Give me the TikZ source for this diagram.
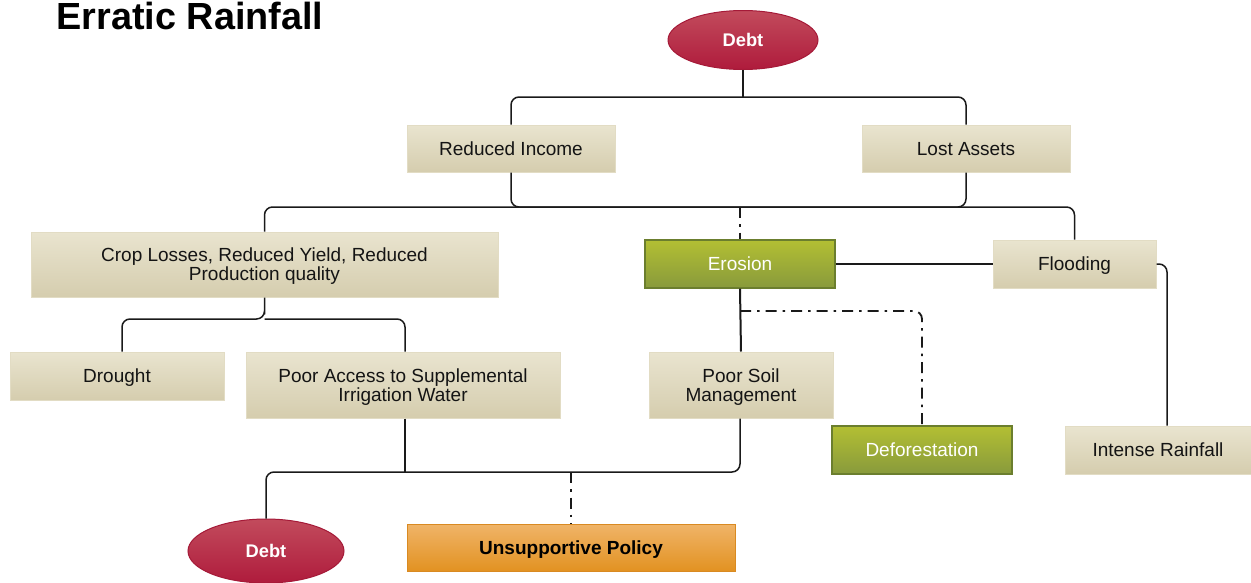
\documentclass[tikz,border=0pt]{standalone}
\usepackage{fontspec}
\setmainfont{Liberation Sans}
\usetikzlibrary{shapes.geometric}
\definecolor{beigetop}{HTML}{E9E4CF}
\definecolor{beigebot}{HTML}{D5CDAE}
\definecolor{beigeline}{HTML}{E2DCC4}
\definecolor{greentop}{HTML}{B3BF33}
\definecolor{greenbot}{HTML}{889A3C}
\definecolor{greenline}{HTML}{6B7E2E}
\definecolor{orangetop}{HTML}{F0B468}
\definecolor{orangebot}{HTML}{E29222}
\definecolor{orangeline}{HTML}{D98A22}
\definecolor{redtop}{HTML}{C24B5C}
\definecolor{redbot}{HTML}{AF1B3C}
\definecolor{redline}{HTML}{A51A38}
\definecolor{linecol}{HTML}{1A1A1A}
\begin{document}
\begin{tikzpicture}[x=1pt,y=-1pt,
  txt/.style={font=\fontsize{19}{19}\selectfont, text depth=0pt},
  beige/.style={txt, draw=beigeline, line width=1pt, top color=beigetop, bottom color=beigebot, text=black!92, inner sep=0pt, align=center},
  greenbox/.style={txt, draw=greenline, line width=1.2pt, top color=greentop, bottom color=greenbot, text=white, inner sep=0pt, align=center},
  orangebox/.style={font=\fontsize{19}{19}\selectfont\bfseries, text depth=0pt, draw=orangeline, line width=1pt, top color=orangetop, bottom color=orangebot, text=black, inner sep=0pt, align=center},
  debtnode/.style={ellipse, font=\fontsize{18.3}{19}\selectfont\bfseries, draw=redline, line width=1pt, top color=redtop, bottom color=redbot, text=white, inner sep=0pt},
  conn/.style={draw=linecol, line width=1.5pt, rounded corners=8pt},
  dashdot/.style={draw=linecol, line width=1.8pt, dash pattern=on 11pt off 6pt on 2.5pt off 6pt}
]
\useasboundingbox (0,0) rectangle (1251,582);
\node[anchor=base west, font=\fontsize{37.8}{40}\selectfont\bfseries] (title) at (53,29) {Erratic Rainfall};

% nodes
\node[debtnode, minimum width=150pt, minimum height=59pt] (debt1) at (743,40) {Debt};
\node[beige, minimum width=208pt, minimum height=47pt] (ri) at (511,148.5) {Reduced Income};
\node[beige, minimum width=208pt, minimum height=47pt] (la) at (966,148.5) {Lost Assets};
\node[beige, minimum width=467pt, minimum height=65pt] (cl) at (264.5,264.5) {Crop Losses, Reduced Yield, Reduced\\Production quality};
\node[greenbox, minimum width=190pt, minimum height=48pt] (ero) at (740,264) {Erosion};
\node[beige, minimum width=163pt, minimum height=48pt] (fl) at (1074.5,264) {Flooding};
\node[beige, minimum width=214pt, minimum height=48pt] (dr) at (117,376) {Drought};
\node[beige, minimum width=314pt, minimum height=66pt] (pa) at (403,385) {Poor Access to Supplemental\\Irrigation Water};
\node[beige, minimum width=184pt, minimum height=66pt] (psm) at (741,385) {Poor Soil\\Management};
\node[greenbox, minimum width=180pt, minimum height=48pt] (def) at (922,450) {Deforestation};
\node[beige, minimum width=186pt, minimum height=48pt] (ir) at (1158,450) {Intense Rainfall};
\node[debtnode, minimum width=156pt, minimum height=64pt] (debt2) at (266,551) {Debt};
\node[orangebox, minimum width=328pt, minimum height=47pt] (up) at (571,547.5) {Unsupportive Policy};

% junctions
\coordinate (j1) at (743,97);
\coordinate (j2) at (740,207);
\coordinate (j3) at (405,472);
\coordinate (j4) at (740,311);
\coordinate (j5) at (571,472);

% connectors
\draw[conn] (debt1.south) -- (j1);
\draw[conn] (ri.north) |- (j1) -| (la.north);
\draw[conn] (ri.south) |- (j2);
\draw[conn] (la.south) |- (j2);
\draw[conn] (cl.north) |- (j2) -| (fl.north);
\draw[dashdot] (j2) -- (ero.north);
\draw[conn] (cl.south) |- (264.5,319) -| ([xshift=5pt]dr.north);
\draw[conn] (264.5,319) -| ([xshift=2pt]pa.north);
\draw[conn] (ero.east) -- (fl.west);
\draw[conn] (fl.east) -| ([xshift=9pt]ir.north);
\draw[conn, line width=2pt] (ero.south) -- (psm.north);
\draw[dashdot, rounded corners=8pt] (j4) -| (def.north);
\draw[conn] ([xshift=2pt]pa.south) -- (j3);
\draw[conn] ([xshift=-1pt]psm.south) |- (j3) -| (debt2.north);
\draw[dashdot] (j5) -- (up.north);
\end{tikzpicture}
\end{document}
